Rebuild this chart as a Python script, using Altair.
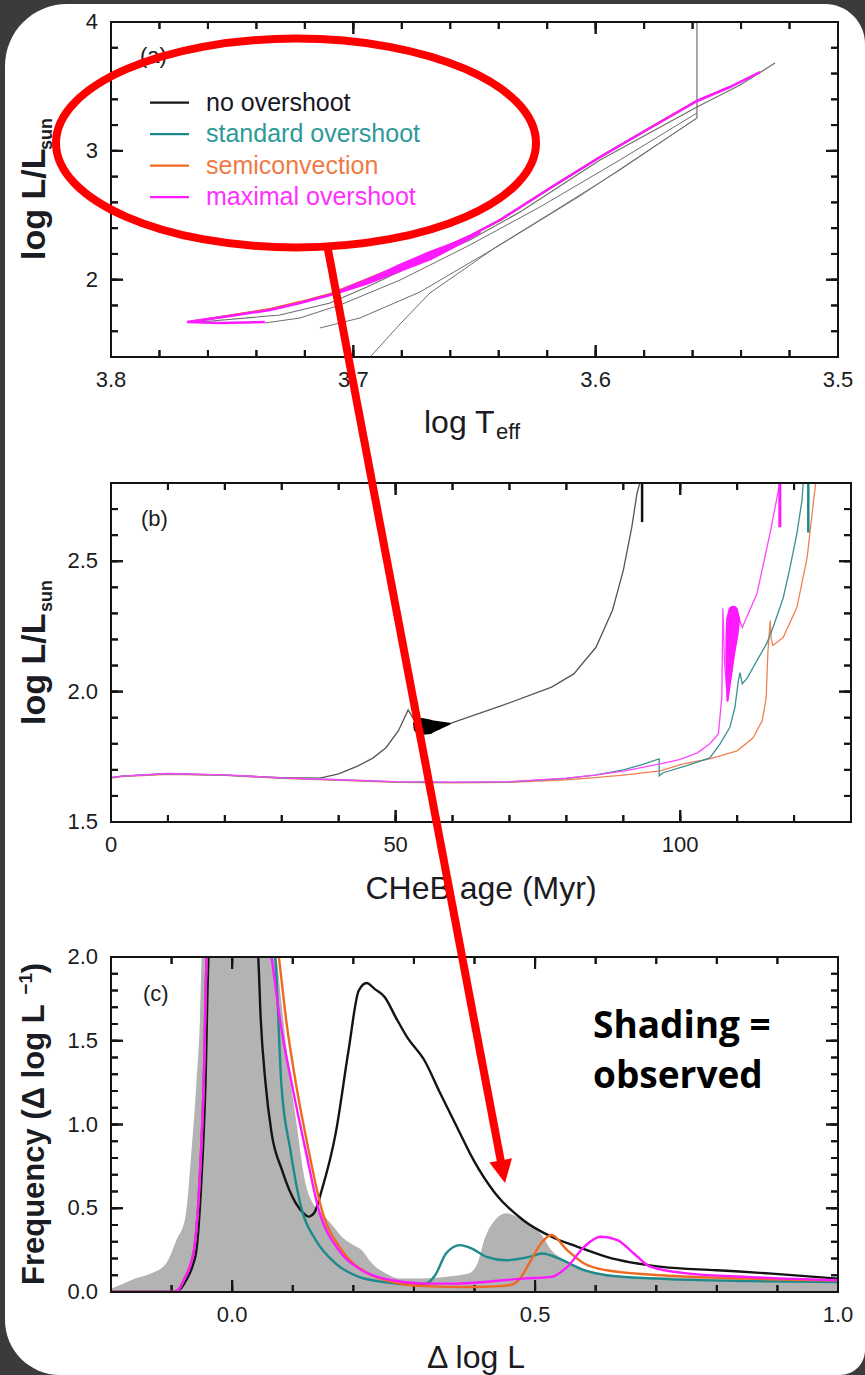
import altair as alt
import pandas as pd

FONT = "Liberation Sans, Arial, Helvetica, sans-serif"
NOTE_FONT = "Open Sans, Lato, sans-serif"
INK = "#1b1b22"
TICK = "#141414"
PAGE_BG = "#3b3b3b"

SERIES = ["no overshoot", "standard overshoot", "semiconvection", "maximal overshoot"]
LINE_COLORS = ["#141414", "#1d8b8b", "#ee6a22", "#ff19ff"]
LABEL_COLORS = ["#17171f", "#2d9999", "#f07b45", "#ff30ff"]
THIN_COLORS = ["#555555", "#3f9090", "#f08155", "#ff45ff"]
HR_GRAY = "#6e6e6e"
OBS_GRAY = "#b3b3b3"

# plot-area sizes of the three panels
A_W, A_H = 727, 335
B_W, B_H = 740, 339
C_W, C_H = 727, 335

# ---------------- panel (a): HR diagram, log Teff vs log L ----------------
A_NOOV_T = [3.7633, 3.7303, 3.7096, 3.6944, 3.6725, 3.6519, 3.6312, 3.5982, 3.5582, 3.5404, 3.5260]
A_NOOV_L = [1.6716, 1.7260, 1.8191, 1.9433, 2.1373, 2.3080, 2.5254, 2.9290, 3.3403, 3.5111, 3.6818]
A_LOOP1_T = [3.5582, 3.5900, 3.6230, 3.6519, 3.6807, 3.7055, 3.7220, 3.7365]
A_LOOP1_L = [3.2937, 2.9290, 2.5642, 2.2692, 1.9976, 1.8036, 1.7027, 1.6639]
A_LOOP2_T = [3.7138, 3.6973, 3.6725, 3.6395, 3.6065, 3.5582]
A_LOOP2_L = [1.6251, 1.7027, 1.9045, 2.2692, 2.6496, 3.2549]
A_LOW_T = [3.6931, 3.6807, 3.6684, 3.6411, 3.6184, 3.5900, 3.5582]
A_LOW_L = [1.4000, 1.6561, 1.8967, 2.2537, 2.5176, 2.8513, 3.2549]
A_TIP_T = [3.5582, 3.5582]
A_TIP_L = [3.2549, 4.0]

A_STD_T = [3.7660, 3.7505, 3.7342, 3.7218, 3.7093, 3.6942, 3.6804, 3.6668, 3.6517, 3.6392, 3.6186, 3.5981, 3.5776, 3.5583, 3.5448]
A_STD_L = [1.6740, 1.7220, 1.7700, 1.8250, 1.8870, 2.0030, 2.1110, 2.2110, 2.3420, 2.4650, 2.7130, 2.9530, 3.1780, 3.3865, 3.4940]
A_SEMI_T = [3.7670, 3.7500, 3.7340, 3.7215, 3.7090, 3.6940, 3.6800, 3.6665, 3.6515, 3.6390, 3.6185, 3.5980, 3.5775, 3.5585, 3.5450]
A_SEMI_L = [1.6760, 1.7260, 1.7740, 1.8300, 1.8930, 2.0080, 2.1150, 2.2140, 2.3440, 2.4670, 2.7140, 2.9540, 3.1790, 3.3860, 3.4930]
A_MAX_T = [3.7365, 3.7550, 3.7686, 3.7509, 3.7344, 3.7220, 3.7096, 3.6944, 3.6807, 3.6671, 3.6519, 3.6395, 3.6188, 3.5982, 3.5776, 3.5582, 3.5446, 3.5322]
A_MAX_L = [1.6716, 1.6639, 1.6716, 1.7182, 1.7648, 1.8191, 1.8812, 1.9976, 2.1063, 2.2072, 2.3391, 2.4633, 2.7116, 2.9522, 3.1773, 3.3869, 3.4955, 3.6119]
A_MAX_LOOPS_T = [3.7055, 3.6944, 3.6807, 3.6684, 3.6560, 3.6478]
A_MAX_LOOPS_L = [1.905, 1.980, 2.092, 2.186, 2.290, 2.365]
A_MAX_LOOPS_W = [3, 5, 8, 9, 5, 2]

# ---------------- panel (b): log L against core-He-burning age ----------------
B_NOOV_AGE = [0, 2, 10, 20, 30, 36.7, 40.0, 43.4, 46.0, 48.3, 50.5, 52.2, 53.0, 53.8, 56.5,
              59.5, 68.5, 77.4, 81.3, 85.2, 88.1, 90.0, 91.5, 92.4, 92.9]
B_NOOV_L = [1.670, 1.676, 1.685, 1.680, 1.670, 1.668, 1.685, 1.715, 1.745, 1.785, 1.850, 1.930, 1.900, 1.875, 1.868,
            1.877, 1.945, 2.017, 2.068, 2.170, 2.312, 2.465, 2.632, 2.760, 2.800]
B_NOOV_BLOB_AGE = [53.6, 54.6, 55.8, 57.4, 59.5]
B_NOOV_BLOB_L = [1.876, 1.866, 1.865, 1.870, 1.877]
B_NOOV_BLOB_W = [6, 17, 15, 9, 2]
B_NOOV_END_AGE = [93.3, 93.3]
B_NOOV_END_L = [2.65, 2.80]

B_STD_AGE = [0, 2, 10, 20, 30, 40, 50, 60, 70, 80, 85, 90, 93, 96.3, 96.3, 97.0, 101.0, 105.2, 107.0, 108.7,
             109.6, 110.2, 110.5, 110.9, 111.7, 113.5, 115.2, 116.3, 118.1, 119.3, 120.5, 121.4, 121.6]
B_STD_L = [1.670, 1.676, 1.685, 1.680, 1.668, 1.662, 1.654, 1.652, 1.654, 1.667, 1.680, 1.700, 1.718, 1.742, 1.677,
           1.689, 1.715, 1.746, 1.800, 1.862, 1.938, 2.040, 2.073, 2.030, 2.050, 2.120, 2.185, 2.246, 2.360,
           2.477, 2.607, 2.735, 2.800]
B_STD_END_AGE = [122.5, 122.5]
B_STD_END_L = [2.61, 2.80]

B_SEMI_AGE = [0, 2, 10, 20, 30, 40, 50, 60, 70, 80, 85, 90, 96.5, 100.5, 105.2, 110.0, 112.8, 114.4, 115.1,
              115.4, 115.8, 116.0, 116.3, 118.1, 120.5, 122.3, 123.3, 123.8]
B_SEMI_L = [1.668, 1.674, 1.683, 1.679, 1.667, 1.660, 1.652, 1.650, 1.652, 1.662, 1.670, 1.680, 1.696, 1.723,
            1.742, 1.773, 1.823, 1.888, 1.977, 2.150, 2.273, 2.200, 2.177, 2.208, 2.323, 2.515, 2.708, 2.800]

B_MAX_AGE = [0, 2, 10, 20, 30, 40, 50, 60, 70, 80, 85, 90, 96.5, 100, 103, 105.2, 106.7, 107.3, 107.5, 107.8,
             108.4, 109.2, 110.0, 110.5, 110.9, 113.5, 115.8, 117.5]
B_MAX_L = [1.670, 1.676, 1.686, 1.681, 1.669, 1.662, 1.655, 1.653, 1.655, 1.668, 1.680, 1.695, 1.723, 1.740,
           1.765, 1.800, 1.838, 1.977, 2.320, 2.100, 1.970, 2.200, 2.300, 2.270, 2.246, 2.377, 2.610, 2.800]
B_MAX_BLOB_AGE = [108.3, 108.5, 108.8, 109.1, 109.3, 109.3]
B_MAX_BLOB_L = [1.965, 2.050, 2.150, 2.220, 2.280, 2.310]
B_MAX_BLOB_W = [2, 6, 10, 13, 14, 10]
B_MAX_END_AGE = [117.5, 117.5]
B_MAX_END_L = [2.63, 2.80]

# ---------------- panel (c): distribution of delta log L ----------------
OBS_DL = [-0.2, -0.18, -0.16, -0.134, -0.109, -0.092, -0.077, -0.067, -0.059, -0.053, -0.05, 0.0, 0.073, 0.081,
          0.09, 0.105, 0.121, 0.135, 0.148, 0.165, 0.181, 0.2, 0.214, 0.231, 0.254, 0.276, 0.3, 0.35, 0.39,
          0.405, 0.416, 0.434, 0.452, 0.47, 0.49, 0.509, 0.527, 0.55, 0.571, 0.6, 0.63, 0.663, 0.7, 0.8, 0.9, 1.0]
OBS_FREQ = [0.02, 0.05, 0.08, 0.11, 0.17, 0.31, 0.45, 0.85, 1.25, 1.64, 2.0, 2.6, 2.0, 1.74, 1.44, 1.04, 0.65,
            0.52, 0.47, 0.40, 0.33, 0.28, 0.25, 0.17, 0.11, 0.08, 0.08, 0.09, 0.11, 0.17, 0.31, 0.43, 0.47,
            0.45, 0.40, 0.35, 0.25, 0.19, 0.15, 0.12, 0.10, 0.09, 0.09, 0.08, 0.075, 0.07]

C_NOOV_DL = [-0.2, -0.12, -0.097, -0.085, -0.076, -0.065, -0.059, -0.051, -0.044, -0.039, 0.0, 0.043, 0.047,
             0.055, 0.065, 0.082, 0.105, 0.118, 0.126, 0.135, 0.148, 0.171, 0.192, 0.209, 0.222, 0.235, 0.252,
             0.27, 0.289, 0.317, 0.343, 0.371, 0.398, 0.434, 0.48, 0.527, 0.57, 0.618, 0.709, 0.8, 0.891, 1.0]
C_NOOV_FREQ = [0.0, 0.0, 0.0, 0.02, 0.07, 0.16, 0.25, 0.65, 1.25, 2.0, 3.2, 2.0, 1.64, 1.25, 0.95, 0.73, 0.53,
               0.47, 0.45, 0.47, 0.61, 0.95, 1.44, 1.80, 1.845, 1.81, 1.76, 1.64, 1.52, 1.385, 1.19, 0.985,
               0.79, 0.59, 0.43, 0.33, 0.27, 0.21, 0.15, 0.13, 0.11, 0.08]
C_STD_DL = [-0.2, -0.1, -0.09, -0.08, -0.063, -0.054, -0.047, -0.042, 0.0, 0.071, 0.081, 0.096, 0.115, 0.138,
            0.171, 0.209, 0.25, 0.30, 0.32, 0.335, 0.353, 0.376, 0.395, 0.42, 0.452, 0.49, 0.512, 0.545, 0.581,
            0.618, 0.7, 0.85, 1.0]
C_STD_FREQ = [0.0, 0.0, 0.01, 0.07, 0.25, 0.65, 1.25, 2.0, 3.2, 2.0, 1.25, 0.85, 0.49, 0.31, 0.17, 0.09, 0.06,
              0.045, 0.05, 0.10, 0.23, 0.28, 0.26, 0.21, 0.19, 0.21, 0.23, 0.19, 0.13, 0.10, 0.08, 0.065, 0.06]
C_SEMI_DL = [-0.2, -0.1, -0.09, -0.08, -0.063, -0.054, -0.047, -0.042, 0.0, 0.077, 0.09, 0.105, 0.126, 0.148,
             0.181, 0.225, 0.27, 0.32, 0.39, 0.44, 0.462, 0.477, 0.49, 0.512, 0.527, 0.553, 0.581, 0.618, 0.709,
             0.85, 1.0]
C_SEMI_FREQ = [0.0, 0.0, 0.01, 0.07, 0.25, 0.65, 1.25, 2.0, 3.2, 2.0, 1.6, 1.25, 0.85, 0.49, 0.25, 0.11, 0.055,
               0.035, 0.03, 0.035, 0.045, 0.09, 0.17, 0.30, 0.34, 0.25, 0.17, 0.13, 0.10, 0.08, 0.07]
C_MAX_DL = [-0.2, -0.1, -0.09, -0.08, -0.063, -0.054, -0.047, -0.042, 0.0, 0.065, 0.08, 0.098, 0.121, 0.143,
            0.176, 0.214, 0.264, 0.317, 0.37, 0.416, 0.48, 0.527, 0.553, 0.581, 0.608, 0.636, 0.663, 0.691,
            0.755, 0.85, 1.0]
C_MAX_FREQ = [0.0, 0.0, 0.01, 0.07, 0.25, 0.65, 1.25, 2.0, 3.2, 2.0, 1.6, 1.25, 0.85, 0.49, 0.25, 0.13, 0.07,
              0.05, 0.05, 0.06, 0.08, 0.09, 0.15, 0.27, 0.33, 0.31, 0.23, 0.15, 0.11, 0.09, 0.07]

# axis tick positions
A_X_MAJOR = [3.8, 3.7, 3.6, 3.5]
A_X_MINOR = [round(3.5 + 0.02 * k, 2) for k in range(16)]
A_Y_MAJOR = [2, 3, 4]
A_Y_MINOR = [round(1.4 + 0.2 * k, 1) for k in range(14)]
B_X_MAJOR = [0, 50, 100]
B_X_MINOR = [10 * k for k in range(14)]
B_Y_MAJOR = [1.5, 2.0, 2.5]
B_Y_MINOR = [round(1.5 + 0.1 * k, 1) for k in range(14)]
C_X_MAJOR = [0.0, 0.5, 1.0]
C_X_MINOR = [round(-0.2 + 0.1 * k, 1) for k in range(13)]
C_Y_MAJOR = [0.0, 0.5, 1.0, 1.5, 2.0]
C_Y_MINOR = [round(0.1 * k, 1) for k in range(21)]

ONE = pd.DataFrame({"k": [0]})
MAJ, MIN = 12, 7
TICK_W = 2
LABEL_SIZE = 22


class Panel:
    """Scales of one plot panel; ticks and tick labels are drawn as marks through them."""

    def __init__(self, xdom, ydom, w, h):
        self.xdom, self.ydom = xdom, ydom
        self.xsc = alt.Scale(domain=xdom, nice=False, zero=False)
        self.ysc = alt.Scale(domain=ydom, nice=False, zero=False)
        self.w, self.h = w, h

    def X(self, field="x"):
        return alt.X(f"{field}:Q", scale=self.xsc, axis=None)

    def Y(self, field="y"):
        return alt.Y(f"{field}:Q", scale=self.ysc, axis=None)

    def xy(self):
        return dict(x=self.X(), y=self.Y(), order="i:Q")

    def dx(self, px):
        return (self.xdom[1] - self.xdom[0]) * px / self.w

    def dy(self, px):
        return (self.ydom[1] - self.ydom[0]) * px / self.h


def frame_of(xs, ys, ws=None):
    d = {"x": xs, "y": ys, "i": list(range(len(xs)))}
    if ws is not None:
        d["w"] = ws
    return pd.DataFrame(d)


def track(p, xs, ys, color, width, interp="linear", clip=False):
    return alt.Chart(frame_of(xs, ys)).mark_line(
        color=color, strokeWidth=width, interpolate=interp, clip=clip
    ).encode(**p.xy())


def blob(p, xs, ys, ws, color):
    return alt.Chart(frame_of(xs, ys, ws)).mark_trail(color=color).encode(
        size=alt.Size("w:Q", scale=None, legend=None), **p.xy())


def txt(text, x, y, size, color=INK, angle=0, align="left", baseline="alphabetic",
        weight="normal", font=FONT):
    mk = dict(text=text, fontSize=size, font=font, color=color, align=align,
              baseline=baseline, fontWeight=weight)
    if angle:
        mk["angle"] = angle
    return alt.Chart(ONE).mark_text(**mk).encode(x=alt.value(x), y=alt.value(y))


def tick_layers(p, xmaj, xmin, ymaj, ymin):
    """Inward ticks on all four sides, as thin bars placed through the panel scales."""
    x0, x1 = p.xdom
    y0, y1 = p.ydom
    hx, hy = p.dx(TICK_W / 2), p.dy(TICK_W / 2)
    rows = []
    for vals, length in ((xmin, MIN), (xmaj, MAJ)):
        ly = p.dy(length)
        for v in vals:
            rows.append((v - hx, v + hx, y0, y0 + ly))
            rows.append((v - hx, v + hx, y1 - ly, y1))
    for vals, length in ((ymin, MIN), (ymaj, MAJ)):
        lx = p.dx(length)
        for v in vals:
            rows.append((x0, x0 + lx, v - hy, v + hy))
            rows.append((x1 - lx, x1, v - hy, v + hy))
    bars = pd.DataFrame(rows, columns=["xa", "xb", "ya", "yb"])
    bar_layer = alt.Chart(bars).mark_rect(color=TICK, opacity=1).encode(
        x=p.X("xa"), x2=alt.X2("xb"), y=p.Y("ya"), y2=alt.Y2("yb"))

    segs = []
    for vals, length in ((xmin, MIN), (xmaj, MAJ)):
        ly = p.dy(length)
        for v in vals:
            segs.append(([v, v], [y0, y0 + ly]))
            segs.append(([v, v], [y1, y1 - ly]))
    for vals, length in ((ymin, MIN), (ymaj, MAJ)):
        lx = p.dx(length)
        for v in vals:
            segs.append(([x0, x0 + lx], [v, v]))
            segs.append(([x1, x1 - lx], [v, v]))
    return [bar_layer] + [track(p, xs, ys, TICK, TICK_W) for xs, ys in segs]


def tick_labels(p, xmaj, ymaj, xfmt, yfmt):
    style = dict(font=FONT, fontSize=LABEL_SIZE, color=INK)
    bottom = alt.Chart(pd.DataFrame({"v": xmaj})).mark_text(
        align="center", baseline="top", **style
    ).encode(x=p.X("v"), y=alt.value(p.h + 13), text=alt.Text("v:Q", format=xfmt))
    left = alt.Chart(pd.DataFrame({"v": ymaj})).mark_text(
        align="right", baseline="middle", **style
    ).encode(y=p.Y("v"), x=alt.value(-13), text=alt.Text("v:Q", format=yfmt))
    return [bottom, left]


def box(p):
    return alt.Chart(ONE).mark_rect(filled=False, color=TICK, strokeWidth=2).encode(
        x=alt.value(0), x2=alt.value(p.w), y=alt.value(0), y2=alt.value(p.h))


# ---------------- panel (a) ----------------
pa = Panel([3.8, 3.5], [1.4, 4.0], A_W, A_H)

card = alt.Chart(ONE).mark_rect(
    color="white", opacity=1, cornerRadiusTopLeft=62, cornerRadiusTopRight=40,
    cornerRadiusBottomRight=25, cornerRadiusBottomLeft=55
).encode(x=alt.value(-106), x2=alt.value(754), y=alt.value(-18), y2=alt.value(1353))

a_tracks = [
    track(pa, A_LOW_T, A_LOW_L, HR_GRAY, 1),
    track(pa, A_LOOP2_T, A_LOOP2_L, HR_GRAY, 1),
    track(pa, A_LOOP1_T, A_LOOP1_L, HR_GRAY, 1),
    track(pa, A_NOOV_T, A_NOOV_L, HR_GRAY, 1.2),
    track(pa, A_TIP_T, A_TIP_L, HR_GRAY, 1.2),
    track(pa, A_STD_T, A_STD_L, LINE_COLORS[1], 2),
    track(pa, A_SEMI_T, A_SEMI_L, LINE_COLORS[2], 2),
    track(pa, A_MAX_T, A_MAX_L, LINE_COLORS[3], 2.5),
    blob(pa, A_MAX_LOOPS_T, A_MAX_LOOPS_L, A_MAX_LOOPS_W, LINE_COLORS[3]),
]

a_legend = []
for i, (name, lc, tc) in enumerate(zip(SERIES, LINE_COLORS, LABEL_COLORS)):
    yy = 80.7 + 31.5 * i
    a_legend.append(alt.Chart(ONE).mark_rule(color=lc, strokeWidth=2.2).encode(
        x=alt.value(39), x2=alt.value(78), y=alt.value(yy)))
    a_legend.append(txt(name, 95, yy, 25, color=tc, baseline="middle"))

a_text = [
    txt("(a)", 29, 24, 22, baseline="top"),
    txt("log L/L", -66, 238, 34, angle=270, weight="bold"),
    txt("sun", -59, 96, 18, angle=270, align="right", weight="bold"),
    txt("log T", 313, 411, 32),
    txt("eff", 385, 417, 22),
]

panel_a = alt.layer(
    card,
    *tick_layers(pa, A_X_MAJOR, A_X_MINOR, A_Y_MAJOR, A_Y_MINOR),
    *a_tracks, box(pa),
    *tick_labels(pa, A_X_MAJOR, A_Y_MAJOR, ".1f", "d"),
    *a_legend, *a_text
).properties(width=A_W, height=A_H)

# ---------------- panel (b) ----------------
pb = Panel([0, 130], [1.5, 2.8], B_W, B_H)

b_tracks = [
    track(pb, B_NOOV_AGE, B_NOOV_L, THIN_COLORS[0], 1.3, clip=True),
    blob(pb, B_NOOV_BLOB_AGE, B_NOOV_BLOB_L, B_NOOV_BLOB_W, "#000000"),
    track(pb, B_NOOV_END_AGE, B_NOOV_END_L, "#111111", 2.5),
    track(pb, B_SEMI_AGE, B_SEMI_L, THIN_COLORS[2], 1.3, clip=True),
    track(pb, B_STD_AGE, B_STD_L, THIN_COLORS[1], 1.3, clip=True),
    track(pb, B_STD_END_AGE, B_STD_END_L, LINE_COLORS[1], 2.5),
    track(pb, B_MAX_AGE, B_MAX_L, THIN_COLORS[3], 1.3, clip=True),
    blob(pb, B_MAX_BLOB_AGE, B_MAX_BLOB_L, B_MAX_BLOB_W, LINE_COLORS[3]),
    track(pb, B_MAX_END_AGE, B_MAX_END_L, LINE_COLORS[3], 3),
]

b_text = [
    txt("(b)", 30, 26, 22, baseline="top"),
    txt("log L/L", -66, 242, 34, angle=270, weight="bold"),
    txt("sun", -59, 97, 18, angle=270, align="right", weight="bold"),
    txt("CHeB age (Myr)", 370, 416, 32, align="center"),
]

panel_b = alt.layer(
    *tick_layers(pb, B_X_MAJOR, B_X_MINOR, B_Y_MAJOR, B_Y_MINOR),
    *b_tracks, box(pb),
    *tick_labels(pb, B_X_MAJOR, B_Y_MAJOR, "d", ".1f"),
    *b_text
).properties(width=B_W, height=B_H)

# ---------------- panel (c) ----------------
pc = Panel([-0.2, 1.0], [0, 2], C_W, C_H)

observed = alt.Chart(frame_of(OBS_DL, OBS_FREQ)).mark_area(
    color=OBS_GRAY, opacity=1, interpolate="monotone", clip=True, orient="vertical"
).encode(x=pc.X(), y=pc.Y(), y2=alt.value(C_H))

c_tracks = [
    track(pc, C_NOOV_DL, C_NOOV_FREQ, LINE_COLORS[0], 2.4, "monotone", True),
    track(pc, C_STD_DL, C_STD_FREQ, LINE_COLORS[1], 2.4, "monotone", True),
    track(pc, C_SEMI_DL, C_SEMI_FREQ, LINE_COLORS[2], 2.4, "monotone", True),
    track(pc, C_MAX_DL, C_MAX_FREQ, LINE_COLORS[3], 2.4, "monotone", True),
]

c_text = [
    txt("(c)", 32, 27, 22, baseline="top"),
    txt("Frequency (\u0394 log L", -67, 328, 31, angle=270, weight="bold"),
    txt("\u22121", -79, 16, 19, angle=270, align="right", weight="bold"),
    txt(")", -67, 6, 31, angle=270, align="right", weight="bold"),
    txt("\u0394 log L", 365, 418, 32, align="center", baseline="bottom"),
    txt("Shading =", 482, 81, 37, color="#000000", weight="bold", font=NOTE_FONT),
    txt("observed", 482, 131, 37, color="#000000", weight="bold", font=NOTE_FONT),
]

# red call-out: ellipse round the legend of (a), arrow down into (c)
ELLIPSE_PATH = ("M -1 0 C -1 -0.240 -0.552 -0.435 0 -0.435 C 0.552 -0.435 1 -0.240 1 0 "
                "C 1 0.240 0.552 0.435 0 0.435 C -0.552 0.435 -1 0.240 -1 0 Z")
HEAD_PATH = "M -1 -1 L 1 -1 L 0 1 Z"
ellipse = alt.Chart(ONE).mark_point(
    shape=ELLIPSE_PATH, size=480 ** 2, filled=False, color="#ff0000", strokeWidth=8, opacity=1
).encode(x=alt.value(185), y=alt.value(-814))
shaft = alt.Chart(ONE).mark_rule(color="#ff0000", strokeWidth=8).encode(
    x=alt.value(216.5), y=alt.value(-710), x2=alt.value(391.85), y2=alt.value(214.7))
head = alt.Chart(ONE).mark_point(
    shape=HEAD_PATH, size=529, filled=True, color="#ff0000", opacity=1, angle=349.2
).encode(x=alt.value(391.85), y=alt.value(214.7))

panel_c = alt.layer(
    observed,
    *tick_layers(pc, C_X_MAJOR, C_X_MINOR, C_Y_MAJOR, C_Y_MINOR),
    *c_tracks, box(pc),
    *tick_labels(pc, C_X_MAJOR, C_Y_MAJOR, ".1f", ".1f"),
    *c_text, ellipse, shaft, head
).properties(width=C_W, height=C_H)

chart = alt.vconcat(
    panel_a,
    alt.vconcat(panel_b, panel_c, spacing=135, bounds="flush"),
    spacing=126, bounds="flush"
).properties(
    background=PAGE_BG,
    padding={"left": 5, "top": 4, "right": 0, "bottom": 0},
).configure_view(strokeWidth=0)

chart.save("out.html", embed_options={"renderer": "svg", "actions": False})
